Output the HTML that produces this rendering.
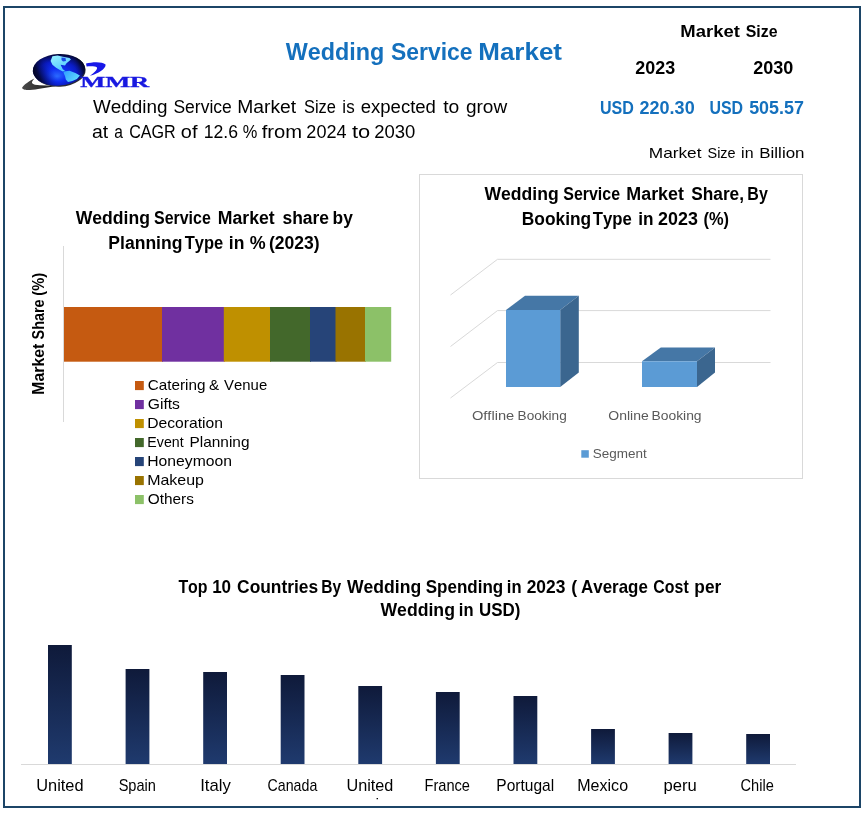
<!DOCTYPE html>
<html lang="en">
<head>
<meta charset="utf-8">
<title>Wedding Service Market</title>
<style>
html,body{margin:0;padding:0;background:#fff;}
body{width:864px;height:813px;overflow:hidden;position:relative;}
svg{display:block;position:absolute;left:0;top:0;}
text{font-family:"Liberation Sans",sans-serif;fill:#000;font-kerning:none;}
.b{font-weight:bold;}
.blue{fill:#1470bd;}
.serif{font-family:"Liberation Serif",serif;}
.g{fill:#595959;}
</style>
</head>
<body>
<svg width="864" height="813" viewBox="0 0 864 813">
<defs>
  <radialGradient id="globe" cx="0.44" cy="0.58" r="0.6" fx="0.46" fy="0.7">
    <stop offset="0" stop-color="#2a6aff"/>
    <stop offset="0.35" stop-color="#0f2ef2"/>
    <stop offset="0.65" stop-color="#0a1cc6"/>
    <stop offset="0.85" stop-color="#070f70"/>
    <stop offset="1" stop-color="#030626"/>
  </radialGradient>
  <linearGradient id="globeshade" x1="0" y1="0.62" x2="1" y2="0.38">
    <stop offset="0" stop-color="#02041e" stop-opacity="1"/>
    <stop offset="0.1" stop-color="#02041e" stop-opacity="0.8"/>
    <stop offset="0.22" stop-color="#050a50" stop-opacity="0.45"/>
    <stop offset="0.4" stop-color="#0a1cc6" stop-opacity="0"/>
    <stop offset="0.78" stop-color="#0a1cc6" stop-opacity="0"/>
    <stop offset="0.92" stop-color="#02041e" stop-opacity="0.5"/>
    <stop offset="1" stop-color="#02041e" stop-opacity="0.85"/>
  </linearGradient>
  <linearGradient id="land1" x1="0" y1="0" x2="0.6" y2="1">
    <stop offset="0" stop-color="#9af2ff"/>
    <stop offset="1" stop-color="#4fc6ff"/>
  </linearGradient>
  <linearGradient id="land2" x1="0" y1="0" x2="1" y2="0.6">
    <stop offset="0" stop-color="#2f9cff"/>
    <stop offset="1" stop-color="#5fdcff"/>
  </linearGradient>
  <linearGradient id="navy" x1="0" y1="0" x2="0" y2="1">
    <stop offset="0" stop-color="#0f1a3a"/>
    <stop offset="1" stop-color="#1f3a6e"/>
  </linearGradient>
  <linearGradient id="sw" x1="0" y1="0" x2="1" y2="0">
    <stop offset="0" stop-color="#4a4a4a"/>
    <stop offset="1" stop-color="#1a1a1a"/>
  </linearGradient>
</defs>

<!-- outer frame -->
<rect x="4" y="7" width="856" height="800" fill="#fff" stroke="#1c4567" stroke-width="2"/>

<!-- logo -->
<g id="logo">
  <path d="M22.2,87.6 C24,84.5 29,81 34.4,78.4 C32.5,80.5 31.5,82.2 32.2,83.2 C33,84.6 36,85 40,85.2 L47,85.4 C50,85.6 53,86 56,86.4 C51,86.6 44,87.8 38,88.9 C33,89.8 26,90.3 24,89.5 C22.5,89 21.8,88.4 22.2,87.6 Z" fill="url(#sw)"/>
  <g transform="rotate(-3 58.9 69.8)">
    <ellipse cx="59.6" cy="70.9" rx="26" ry="15.8" fill="#2b2b33"/>
  </g>
  <g transform="rotate(-3 58.9 69.8)">
    <ellipse cx="58.9" cy="69.8" rx="26.1" ry="15.8" fill="url(#globe)"/>
    <ellipse cx="58.9" cy="69.8" rx="26.1" ry="15.8" fill="url(#globeshade)"/>
  </g>
  <path d="M52.4,56.3 L57.6,55.6 L62.8,56.7 L69.5,58.1 L71,59.6 L66.5,63.3 L65,65.6 L60.6,64.8 L62.8,69.3 L65,70.7 L62.8,71.5 L59.9,70 L56.1,67.8 L52.4,64.8 L50.6,61.1 Z" fill="url(#land1)"/>
  <path d="M61.5,57.5 L65.5,58 L66,61 L63,61.5 L61.5,60 Z" fill="#1a48e8"/>
  <path d="M63.6,71.5 L69.5,70.7 L75.4,73 L79.9,75.6 L76.9,78.9 L72.4,81.1 L68,81.9 L65.8,79.6 L65,75.9 L63.6,73 Z" fill="url(#land2)"/>
  <path d="M86,63.6 C92,62 102,61.3 105.6,64.6 C106,69 98,74 89.9,75.8 C95,72 97.6,69.2 97,67.4 C95,66 90,66.2 86.6,66.6 Z" fill="#1818e8"/>
  <text class="serif b" x="80.2" y="86.5" font-size="14.2" textLength="69" lengthAdjust="spacingAndGlyphs" style="fill:#1818e0;stroke:#1818e0;stroke-width:0.3">MMR</text>
</g>

<!-- header -->
<text class="b blue" y="59.50" font-size="24.40"><tspan x="285.68" textLength="98.59" lengthAdjust="spacingAndGlyphs">Wedding</tspan> <tspan x="391.04" textLength="81.44" lengthAdjust="spacingAndGlyphs">Service</tspan> <tspan x="478.26" textLength="83.76" lengthAdjust="spacingAndGlyphs">Market</tspan></text>
<text y="112.60" font-size="17.50"><tspan x="92.92" textLength="74.55" lengthAdjust="spacingAndGlyphs">Wedding</tspan> <tspan x="173.46" textLength="58.32" lengthAdjust="spacingAndGlyphs">Service</tspan> <tspan x="237.17" textLength="58.97" lengthAdjust="spacingAndGlyphs">Market</tspan> <tspan x="304.00" textLength="31.98" lengthAdjust="spacingAndGlyphs">Size</tspan> <tspan x="342.37" textLength="12.25" lengthAdjust="spacingAndGlyphs">is</tspan> <tspan x="360.71" textLength="75.23" lengthAdjust="spacingAndGlyphs">expected</tspan> <tspan x="443.21" textLength="16.10" lengthAdjust="spacingAndGlyphs">to</tspan> <tspan x="465.95" textLength="41.25" lengthAdjust="spacingAndGlyphs">grow</tspan></text>
<text y="138.20" font-size="17.50"><tspan x="91.92" textLength="16.22" lengthAdjust="spacingAndGlyphs">at</tspan> <tspan x="114.34" textLength="8.66" lengthAdjust="spacingAndGlyphs">a</tspan> <tspan x="129.18" textLength="46.57" lengthAdjust="spacingAndGlyphs">CAGR</tspan> <tspan x="180.86" textLength="16.61" lengthAdjust="spacingAndGlyphs">of</tspan> <tspan x="203.66" textLength="34.32" lengthAdjust="spacingAndGlyphs">12.6</tspan> <tspan x="242.72" textLength="14.57" lengthAdjust="spacingAndGlyphs">%</tspan> <tspan x="261.71" textLength="40.42" lengthAdjust="spacingAndGlyphs">from</tspan> <tspan x="306.39" textLength="40.14" lengthAdjust="spacingAndGlyphs">2024</tspan> <tspan x="351.97" textLength="18.25" lengthAdjust="spacingAndGlyphs">to</tspan> <tspan x="374.27" textLength="41.15" lengthAdjust="spacingAndGlyphs">2030</tspan></text>
<text class="b" y="37.30" font-size="17.10"><tspan x="680.37" textLength="59.46" lengthAdjust="spacingAndGlyphs">Market</tspan> <tspan x="745.74" textLength="31.80" lengthAdjust="spacingAndGlyphs">Size</tspan></text>
<text class="b" y="73.90" font-size="18.10"><tspan x="635.28" textLength="39.87" lengthAdjust="spacingAndGlyphs">2023</tspan></text>
<text class="b" y="73.90" font-size="18.10"><tspan x="753.28" textLength="40.06" lengthAdjust="spacingAndGlyphs">2030</tspan></text>
<text class="b blue" y="113.50" font-size="17.60"><tspan x="599.93" textLength="33.94" lengthAdjust="spacingAndGlyphs">USD</tspan> <tspan x="639.58" textLength="55.06" lengthAdjust="spacingAndGlyphs">220.30</tspan></text>
<text class="b blue" y="113.50" font-size="17.60"><tspan x="709.44" textLength="33.63" lengthAdjust="spacingAndGlyphs">USD</tspan> <tspan x="749.15" textLength="54.74" lengthAdjust="spacingAndGlyphs">505.57</tspan></text>
<text y="157.50" font-size="14.60"><tspan x="648.78" textLength="52.74" lengthAdjust="spacingAndGlyphs">Market</tspan> <tspan x="707.54" textLength="28.10" lengthAdjust="spacingAndGlyphs">Size</tspan> <tspan x="741.13" textLength="12.40" lengthAdjust="spacingAndGlyphs">in</tspan> <tspan x="759.31" textLength="45.19" lengthAdjust="spacingAndGlyphs">Billion</tspan></text>
<!-- left chart -->
<g id="leftchart">
<text class="b" y="224.40" font-size="18.30"><tspan x="75.73" textLength="74.19" lengthAdjust="spacingAndGlyphs">Wedding</tspan> <tspan x="154.04" textLength="56.75" lengthAdjust="spacingAndGlyphs">Service</tspan> <tspan x="217.82" textLength="56.90" lengthAdjust="spacingAndGlyphs">Market</tspan> <tspan x="282.49" textLength="46.61" lengthAdjust="spacingAndGlyphs">share</tspan> <tspan x="332.61" textLength="20.24" lengthAdjust="spacingAndGlyphs">by</tspan></text>
<text class="b" y="249.00" font-size="18.30"><tspan x="108.33" textLength="74.10" lengthAdjust="spacingAndGlyphs">Planning</tspan> <tspan x="184.81" textLength="38.50" lengthAdjust="spacingAndGlyphs">Type</tspan> <tspan x="228.78" textLength="15.56" lengthAdjust="spacingAndGlyphs">in</tspan> <tspan x="249.80" textLength="15.92" lengthAdjust="spacingAndGlyphs">%</tspan> <tspan x="268.88" textLength="50.75" lengthAdjust="spacingAndGlyphs">(2023)</tspan></text>
  <line x1="63.5" y1="246" x2="63.5" y2="422" stroke="#d9d9d9" stroke-width="1"/>
  <rect x="64.0" y="307" width="99.0" height="54.7" fill="#c55a11"/>
  <rect x="162.0" y="307" width="62.8" height="54.7" fill="#7030a0"/>
  <rect x="223.8" y="307" width="47.2" height="54.7" fill="#bf9000"/>
  <rect x="270.0" y="307" width="41.0" height="54.7" fill="#43682b"/>
  <rect x="310.0" y="307" width="26.5" height="54.7" fill="#264478"/>
  <rect x="335.5" y="307" width="30.5" height="54.7" fill="#997300"/>
  <rect x="365.0" y="307" width="26.2" height="54.7" fill="#8cc168"/>
<g transform="translate(43.9 393.6) rotate(-90)"><text class="b" y="0.00" font-size="16.00"><tspan x="-1.06" textLength="50.85" lengthAdjust="spacingAndGlyphs">Market</tspan> <tspan x="54.19" textLength="39.90" lengthAdjust="spacingAndGlyphs">Share</tspan> <tspan x="97.87" textLength="22.76" lengthAdjust="spacingAndGlyphs">(%)</tspan></text></g>
  <rect x="135" y="381.0" width="8.8" height="9.1" fill="#c55a11"/>
  <rect x="135" y="400.0" width="8.8" height="9.1" fill="#7030a0"/>
  <rect x="135" y="419.0" width="8.8" height="9.1" fill="#bf9000"/>
  <rect x="135" y="438.0" width="8.8" height="9.1" fill="#43682b"/>
  <rect x="135" y="457.0" width="8.8" height="9.1" fill="#264478"/>
  <rect x="135" y="476.0" width="8.8" height="9.1" fill="#997300"/>
  <rect x="135" y="495.0" width="8.8" height="9.1" fill="#8cc168"/>
<text y="389.70" font-size="14.60"><tspan x="147.73" textLength="57.66" lengthAdjust="spacingAndGlyphs">Catering</tspan> <tspan x="209.06" textLength="10.17" lengthAdjust="spacingAndGlyphs">&amp;</tspan> <tspan x="224.13" textLength="43.03" lengthAdjust="spacingAndGlyphs">Venue</tspan></text>
<text y="408.50" font-size="14.60"><tspan x="147.71" textLength="32.26" lengthAdjust="spacingAndGlyphs">Gifts</tspan></text>
<text y="427.70" font-size="14.60"><tspan x="147.21" textLength="75.80" lengthAdjust="spacingAndGlyphs">Decoration</tspan></text>
<text y="446.70" font-size="14.60"><tspan x="147.34" textLength="36.27" lengthAdjust="spacingAndGlyphs">Event</tspan> <tspan x="189.54" textLength="59.96" lengthAdjust="spacingAndGlyphs">Planning</tspan></text>
<text y="465.70" font-size="14.60"><tspan x="147.21" textLength="84.81" lengthAdjust="spacingAndGlyphs">Honeymoon</tspan></text>
<text y="484.70" font-size="14.60"><tspan x="147.19" textLength="56.78" lengthAdjust="spacingAndGlyphs">Makeup</tspan></text>
<text y="503.50" font-size="14.60"><tspan x="147.77" textLength="46.08" lengthAdjust="spacingAndGlyphs">Others</tspan></text>
</g>
<!-- right chart -->
<g id="rightchart">
  <rect x="419.5" y="174.5" width="383" height="304" fill="#fff" stroke="#d9d9d9" stroke-width="1"/>
<text class="b" y="200.40" font-size="18.00"><tspan x="484.48" textLength="74.19" lengthAdjust="spacingAndGlyphs">Wedding</tspan> <tspan x="563.29" textLength="56.75" lengthAdjust="spacingAndGlyphs">Service</tspan> <tspan x="626.30" textLength="57.66" lengthAdjust="spacingAndGlyphs">Market</tspan> <tspan x="691.20" textLength="52.85" lengthAdjust="spacingAndGlyphs">Share,</tspan> <tspan x="747.33" textLength="20.46" lengthAdjust="spacingAndGlyphs">By</tspan></text>
<text class="b" y="224.60" font-size="18.00"><tspan x="521.84" textLength="69.32" lengthAdjust="spacingAndGlyphs">Booking</tspan> <tspan x="592.81" textLength="39.01" lengthAdjust="spacingAndGlyphs">Type</tspan> <tspan x="638.30" textLength="15.26" lengthAdjust="spacingAndGlyphs">in</tspan> <tspan x="658.08" textLength="39.77" lengthAdjust="spacingAndGlyphs">2023</tspan> <tspan x="703.48" textLength="25.54" lengthAdjust="spacingAndGlyphs">(%)</tspan></text>
  <g stroke="#d9d9d9" stroke-width="1" fill="none">
    <polyline points="450.5,295 497.5,259.3 770.5,259.3"/>
    <polyline points="450.5,346.5 497.5,310.6 770.5,310.6"/>
    <polyline points="450.5,398 497.5,362.5 770.5,362.5"/>
  </g>
  <polygon points="506,310 525,295.7 578.8,295.7 560.2,310" fill="#4577a6"/>
  <polygon points="560.2,310 578.8,295.7 578.8,372.6 560.2,387" fill="#3b668f"/>
  <rect x="506" y="310" width="54.2" height="77" fill="#5b9bd5"/>
  <polygon points="642,361.3 660.8,347.5 715,347.5 697,361.3" fill="#4577a6"/>
  <polygon points="697,361.3 715,347.5 715,372.6 697,387" fill="#3b668f"/>
  <rect x="642" y="361.3" width="55" height="25.7" fill="#5b9bd5"/>
<text class="g" y="420.00" font-size="13.40"><tspan x="471.91" textLength="42.34" lengthAdjust="spacingAndGlyphs">Offline</tspan> <tspan x="517.58" textLength="49.19" lengthAdjust="spacingAndGlyphs">Booking</tspan></text>
<text class="g" y="420.00" font-size="13.40"><tspan x="608.34" textLength="40.38" lengthAdjust="spacingAndGlyphs">Online</tspan> <tspan x="651.46" textLength="50.13" lengthAdjust="spacingAndGlyphs">Booking</tspan></text>
  <rect x="581.3" y="450.2" width="7.5" height="7.5" fill="#5b9bd5"/>
<text class="g" y="457.70" font-size="12.80"><tspan x="592.69" textLength="54.01" lengthAdjust="spacingAndGlyphs">Segment</tspan></text>
</g>
<!-- bottom chart -->
<g id="bottomchart">
<text class="b" y="592.50" font-size="17.80"><tspan x="178.42" textLength="29.13" lengthAdjust="spacingAndGlyphs">Top</tspan> <tspan x="212.13" textLength="18.97" lengthAdjust="spacingAndGlyphs">10</tspan> <tspan x="237.09" textLength="81.13" lengthAdjust="spacingAndGlyphs">Countries</tspan> <tspan x="321.21" textLength="19.87" lengthAdjust="spacingAndGlyphs">By</tspan> <tspan x="346.98" textLength="74.19" lengthAdjust="spacingAndGlyphs">Wedding</tspan> <tspan x="425.76" textLength="77.38" lengthAdjust="spacingAndGlyphs">Spending</tspan> <tspan x="506.85" textLength="14.68" lengthAdjust="spacingAndGlyphs">in</tspan> <tspan x="526.65" textLength="38.73" lengthAdjust="spacingAndGlyphs">2023</tspan> <tspan x="571.37" textLength="5.90" lengthAdjust="spacingAndGlyphs">(</tspan> <tspan x="581.08" textLength="66.75" lengthAdjust="spacingAndGlyphs">Average</tspan> <tspan x="653.35" textLength="35.35" lengthAdjust="spacingAndGlyphs">Cost</tspan> <tspan x="694.36" textLength="26.90" lengthAdjust="spacingAndGlyphs">per</tspan></text>
<text class="b" y="616.40" font-size="17.80"><tspan x="380.48" textLength="74.45" lengthAdjust="spacingAndGlyphs">Wedding</tspan> <tspan x="458.85" textLength="14.68" lengthAdjust="spacingAndGlyphs">in</tspan> <tspan x="478.98" textLength="41.36" lengthAdjust="spacingAndGlyphs">USD)</tspan></text>
  <line x1="21" y1="764.5" x2="796" y2="764.5" stroke="#d9d9d9" stroke-width="1"/>
  <g fill="url(#navy)">
    <rect x="48.0" y="645" width="23.8" height="119"/>
    <rect x="125.6" y="669" width="23.8" height="95"/>
    <rect x="203.2" y="672" width="23.8" height="92"/>
    <rect x="280.7" y="675" width="23.8" height="89"/>
    <rect x="358.3" y="686" width="23.8" height="78"/>
    <rect x="435.9" y="692" width="23.8" height="72"/>
    <rect x="513.5" y="696" width="23.8" height="68"/>
    <rect x="591.1" y="729" width="23.8" height="35"/>
    <rect x="668.6" y="733" width="23.8" height="31"/>
    <rect x="746.2" y="734" width="23.8" height="30"/>
  </g>
  <text y="790.80" font-size="15.90"><tspan x="36.24" textLength="47.32" lengthAdjust="spacingAndGlyphs">United</tspan></text>
  <text y="790.80" font-size="15.90"><tspan x="118.64" textLength="37.31" lengthAdjust="spacingAndGlyphs">Spain</tspan></text>
  <text y="790.80" font-size="15.90"><tspan x="200.16" textLength="30.57" lengthAdjust="spacingAndGlyphs">Italy</tspan></text>
  <text y="790.80" font-size="15.90"><tspan x="267.58" textLength="49.72" lengthAdjust="spacingAndGlyphs">Canada</tspan></text>
  <text y="790.80" font-size="15.90"><tspan x="346.45" textLength="46.90" lengthAdjust="spacingAndGlyphs">United</tspan></text>
  <text y="790.80" font-size="15.90"><tspan x="424.50" textLength="45.45" lengthAdjust="spacingAndGlyphs">France</tspan></text>
  <text y="790.80" font-size="15.90"><tspan x="496.33" textLength="57.81" lengthAdjust="spacingAndGlyphs">Portugal</tspan></text>
  <text y="790.80" font-size="15.90"><tspan x="577.28" textLength="50.79" lengthAdjust="spacingAndGlyphs">Mexico</tspan></text>
  <text y="790.80" font-size="15.90"><tspan x="663.43" textLength="33.28" lengthAdjust="spacingAndGlyphs">peru</tspan></text>
  <text y="790.80" font-size="15.90"><tspan x="740.56" textLength="33.29" lengthAdjust="spacingAndGlyphs">Chile</tspan></text>
  <clipPath id="lblclip"><rect x="373" y="790" width="8" height="9.3"/></clipPath>
  <g clip-path="url(#lblclip)"><text y="810.20" font-size="15.90"><tspan x="338.70" textLength="62.34" lengthAdjust="spacingAndGlyphs">Kingdom</tspan></text></g>
</g>
</svg>
</body>
</html>
